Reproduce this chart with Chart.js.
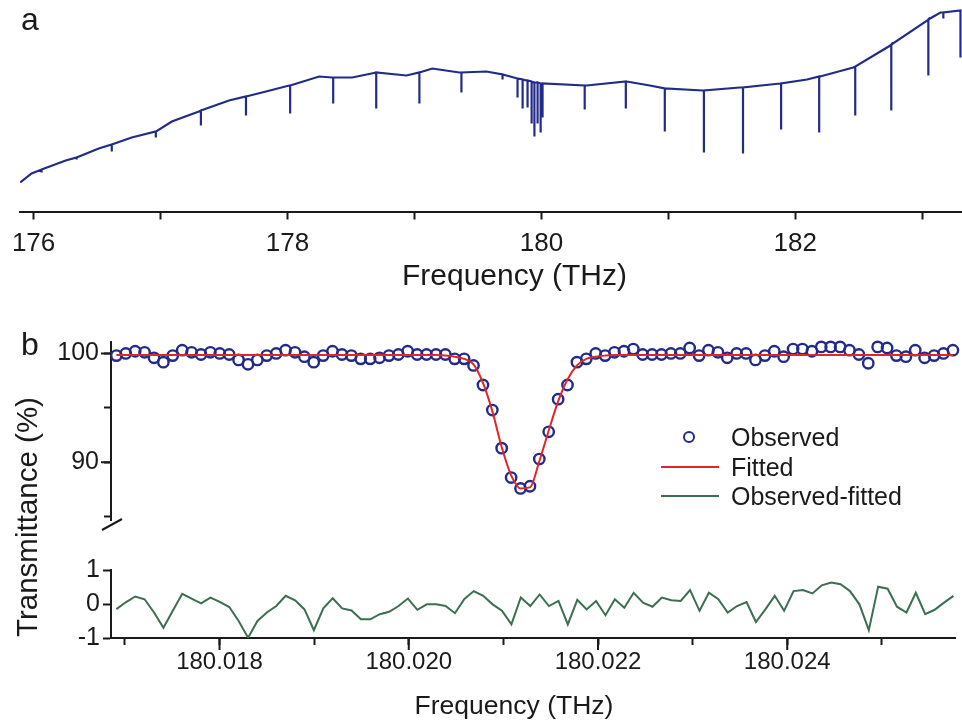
<!DOCTYPE html>
<html>
<head>
<meta charset="utf-8">
<title>Absorption spectrum</title>
<script src="https://cdn.jsdelivr.net/npm/chart.js@4.4.1/dist/chart.umd.min.js"></script>
<style>
  body { margin: 0; background: #fff; }
  #wrap { position: relative; width: 962px; height: 724px; overflow: hidden;
          font-family: "Liberation Sans", Arial, sans-serif; color: #1a1a1a; }
  #wrap canvas { position: absolute; left: 0; }
  .txt { position: absolute; white-space: nowrap; line-height: 1; }
  .legend-row { position: absolute; left: 650px; height: 25px; width: 300px; font-size: 25px; line-height: 25px; }
  .legend-row span { position: absolute; left: 81px; top: 0; }
  .mk-point { position: absolute; left: 33px; top: 6.2px; width: 12px; height: 12px;
              box-sizing: border-box; border: 2.5px solid; border-radius: 50%; }
  .mk-line { position: absolute; left: 11px; top: 11.2px; width: 58px; height: 2px; }
</style>
</head>
<body>
<div id="wrap">
  <canvas id="chartA" width="962" height="300" style="top:0px"></canvas>
  <canvas id="chartB" width="962" height="240" style="top:300px"></canvas>
  <canvas id="chartR" width="962" height="184" style="top:540px"></canvas>
  <div class="txt" style="left:21px;top:3px;font-size:32px">a</div>
  <div class="txt" style="left:21px;top:328px;font-size:32px">b</div>
  <div class="txt" style="left:514.5px;top:260px;font-size:30px;transform:translateX(-50%)">Frequency (THz)</div>
  <div class="txt" style="left:514px;top:691.5px;font-size:26.5px;transform:translateX(-50%)">Frequency (THz)</div>
  <div class="txt" style="left:26.5px;top:516.5px;font-size:29.5px;transform:translate(-50%,-50%) rotate(-90deg)">Transmittance (%)</div>
  <div id="legendB"></div>
</div>

<script>
// ========== PANEL A DATA: SURVEY SPECTRUM (arb. units) ==========
const surveyFreq = [175.895, 175.984, 176.253, 176.513, 176.773, 176.963, 177.089, 177.302, 177.539, 177.831,
  178.013, 178.249, 178.352, 178.510, 178.699, 178.936, 179.141, 179.354, 179.567, 179.725,
  179.883, 180.009, 180.357, 180.672, 180.854, 180.972, 181.272, 181.564, 181.880, 182.093,
  182.196, 182.456, 182.748, 183.040, 183.143, 183.301];
const surveyLevel = [29, 38, 51, 63, 74, 80, 90, 100, 111, 120,
  126, 135, 134, 134, 139, 136, 143, 139, 140, 136,
  131, 128, 126, 130, 126, 123, 121, 124, 128, 132,
  135, 144, 166, 191, 199, 201];

// absorption lines: position, level just outside the line, level at the line centre
const lineFreq = [176.063, 176.339, 176.616, 176.963, 177.318, 177.673, 178.021, 178.360, 178.699, 179.039,
  179.370, 179.694, 179.812, 179.852, 179.891, 179.923, 179.945, 179.970, 179.994, 180.009,
  180.341, 180.665, 180.972, 181.280, 181.588, 181.888, 182.188, 182.472, 182.756, 183.048,
  183.166, 183.301];
const lineBase = [42, 54, 67, 80, 101, 115, 126, 134, 139, 139,
  139, 137, 133, 132, 131, 130, 129, 129, 128, 128,
  126, 130, 123, 121, 124, 128, 135, 145, 167, 192,
  199, 201];
const lineTip = [39, 52, 60, 74, 86, 96, 98, 108, 103, 108,
  119, 132, 114, 103, 104, 88, 75, 88, 79, 94,
  102, 103, 80, 59, 58, 82, 79, 96, 101, 136,
  193, 154];

const surveyTickLabels = [176, 178, 180, 182];

// ========== PANEL B DATA: SINGLE LINE AND FIT ==========
const fitFreq = [180.016910, 180.017009, 180.017109, 180.017208, 180.017308, 180.017407, 180.017506, 180.017606, 180.017705, 180.017805,
  180.017904, 180.018003, 180.018103, 180.018202, 180.018302, 180.018401, 180.018500, 180.018600, 180.018699, 180.018799,
  180.018898, 180.018997, 180.019097, 180.019196, 180.019296, 180.019395, 180.019494, 180.019594, 180.019693, 180.019793,
  180.019892, 180.019991, 180.020091, 180.020190, 180.020290, 180.020389, 180.020488, 180.020588, 180.020687, 180.020787,
  180.020886, 180.020985, 180.021085, 180.021184, 180.021284, 180.021383, 180.021482, 180.021582, 180.021681, 180.021781,
  180.021880, 180.021979, 180.022079, 180.022178, 180.022278, 180.022377, 180.022476, 180.022576, 180.022675, 180.022775,
  180.022874, 180.022973, 180.023073, 180.023172, 180.023272, 180.023371, 180.023470, 180.023570, 180.023669, 180.023769,
  180.023868, 180.023967, 180.024067, 180.024166, 180.024266, 180.024365, 180.024464, 180.024564, 180.024663, 180.024763,
  180.024862, 180.024961, 180.025061, 180.025160, 180.025260, 180.025359, 180.025458, 180.025558, 180.025657, 180.025757];

const observed = [99.8, 100.0, 100.2, 100.1, 99.6, 99.2, 99.8, 100.3, 100.1, 99.9,
  100.1, 100.0, 99.9, 99.4, 99.0, 99.4, 99.8, 100.0, 100.3, 100.1,
  99.7, 99.2, 99.8, 100.2, 99.9, 99.8, 99.5, 99.5, 99.6, 99.8,
  99.9, 100.2, 99.9, 99.9, 99.9, 99.9, 99.5, 99.5, 98.9, 97.1,
  94.8, 91.3, 88.6, 87.6, 87.8, 90.3, 92.8, 95.8, 97.1, 99.2,
  99.5, 100.0, 99.8, 100.1, 100.2, 100.4, 99.9, 99.9, 99.9, 100.0,
  100.0, 100.5, 99.8, 100.3, 100.1, 99.6, 100.0, 100.0, 99.4, 99.8,
  100.2, 99.7, 100.4, 100.4, 100.2, 100.6, 100.6, 100.6, 100.3, 99.9,
  99.1, 100.6, 100.5, 99.8, 99.7, 100.3, 99.6, 99.8, 100.0, 100.3];

const fitted = [99.85, 99.85, 99.85, 99.85, 99.85, 99.85, 99.85, 99.85, 99.85, 99.85,
  99.85, 99.85, 99.85, 99.85, 99.85, 99.85, 99.85, 99.85, 99.85, 99.85,
  99.85, 99.85, 99.85, 99.85, 99.85, 99.85, 99.85, 99.85, 99.85, 99.85,
  99.85, 99.85, 99.85, 99.85, 99.85, 99.8, 99.7, 99.5, 99.0, 97.3,
  94.7, 91.4, 88.8, 87.6, 87.7, 90.1, 92.9, 95.6, 97.6, 98.9,
  99.5, 99.7, 99.8, 99.85, 99.85, 99.85, 99.85, 99.85, 99.85, 99.85,
  99.85, 99.85, 99.85, 99.85, 99.85, 99.85, 99.85, 99.85, 99.85, 99.85,
  99.85, 99.85, 99.85, 99.85, 99.85, 99.85, 99.85, 99.85, 99.85, 99.85,
  99.85, 99.85, 99.85, 99.85, 99.85, 99.85, 99.85, 99.85, 99.85, 99.85];

const residual = [-0.15, 0.05, 0.22, 0.14, -0.25, -0.70, -0.20, 0.30, 0.16, 0.02,
  0.19, 0.06, -0.09, -0.50, -0.99, -0.50, -0.25, -0.06, 0.24, 0.11,
  -0.16, -0.77, -0.13, 0.17, -0.13, -0.19, -0.45, -0.45, -0.30, -0.23,
  -0.06, 0.16, -0.17, -0.01, -0.01, -0.06, -0.27, 0.15, 0.38, 0.24,
  -0.01, -0.20, -0.60, 0.19, -0.06, 0.28, -0.06, 0.09, -0.60, 0.12,
  -0.16, 0.09, -0.33, 0.14, -0.11, 0.33, 0.04, -0.08, 0.19, 0.11,
  0.09, 0.41, -0.20, 0.33, 0.14, -0.25, -0.06, 0.06, -0.53, -0.16,
  0.24, -0.20, 0.38, 0.41, 0.31, 0.55, 0.63, 0.58, 0.38, -0.01,
  -0.77, 0.51, 0.45, -0.08, -0.25, 0.33, -0.30, -0.17, 0.04, 0.24];

const transTickLabels = [90, 100];
const residTickLabels = [-1, 0, 1];
const fitTickLabels = [180.018, 180.020, 180.022, 180.024];

// ========== STYLE ==========
const NAVY = "#222b8a";
const RED = "#e1262a";
const GREEN = "#3b6f4f";
const INK = "#1a1a1a";
const FIT_MIN = 180.016853;
const FIT_MAX = 180.025773;

Chart.defaults.font.family = "'Liberation Sans', Arial, sans-serif";
Chart.defaults.color = INK;

function baseOptions(padding) {
  return {
    responsive: false,
    animation: false,
    devicePixelRatio: 1,
    layout: { padding: padding },
    plugins: { legend: { display: false }, tooltip: { enabled: false } },
  };
}

function axisStyle(tickLength) {
  return {
    border: { display: true, color: INK, width: 2 },
    grid: { drawOnChartArea: false, drawTicks: true, tickLength: tickLength, tickColor: INK, tickWidth: 2 },
  };
}

function hasValue(list, v) {
  return list.some((t) => Math.abs(t - v) < 1e-7);
}

// labelled ticks are drawn a bit longer than the unlabelled ones
const majorTicks = {
  id: "majorTicks",
  afterDraw(chart, args, o) {
    if (!o || !o.values) return;
    const scale = chart.scales[o.axis];
    const ctx = chart.ctx;
    ctx.save();
    ctx.strokeStyle = INK;
    ctx.lineWidth = 2;
    ctx.beginPath();
    o.values.forEach((v) => {
      const p = scale.getPixelForValue(v);
      if (o.axis === "x") {
        ctx.moveTo(p, scale.top);
        ctx.lineTo(p, scale.top + o.length);
      } else {
        ctx.moveTo(scale.right, p);
        ctx.lineTo(scale.right - o.length, p);
      }
    });
    ctx.stroke();
    ctx.restore();
  },
};

// ========== PANEL A ==========
function buildSurveyPoints() {
  const pts = surveyFreq.map((f, i) => ({ x: f, y: surveyLevel[i] }));
  lineFreq.forEach((f, i) => {
    pts.push({ x: f, y: lineBase[i] }, { x: f, y: lineTip[i] }, { x: f, y: lineBase[i] });
  });
  return pts.sort((a, b) => a.x - b.x);
}

function drawSurvey() {
  const opts = baseOptions({ left: 20, right: 0, top: 5, bottom: 0 });
  opts.scales = {
    x: Object.assign(axisStyle(8), {
      type: "linear",
      min: 175.893,
      max: 183.313,
      afterFit: (s) => { s.height = 88.5; },
      ticks: {
        stepSize: 1, includeBounds: false, autoSkip: false, maxRotation: 0, padding: 9,
        font: { size: 26 },
        callback: (v) => (hasValue(surveyTickLabels, v) ? String(v) : ""),
      },
    }),
    y: { display: false, min: 0, max: 206.5 },
  };
  new Chart(document.getElementById("chartA"), {
    type: "line",
    data: {
      datasets: [{ data: buildSurveyPoints(), borderColor: NAVY, borderWidth: 2.2, pointRadius: 0, tension: 0 }],
    },
    options: opts,
  });
}

// ========== PANEL B (transmittance + residual) ==========
const axisBreak = {
  id: "axisBreak",
  afterDraw(chart) {
    const { ctx, chartArea } = chart;
    ctx.save();
    ctx.strokeStyle = INK;
    ctx.lineWidth = 2;
    ctx.beginPath();
    ctx.moveTo(chartArea.left - 9, chartArea.bottom + 10);
    ctx.lineTo(chartArea.left + 11, chartArea.bottom - 1);
    ctx.stroke();
    ctx.restore();
  },
};

function drawTransmittance() {
  const opts = baseOptions({ left: 0, right: 7, top: 42, bottom: 12 });
  opts.plugins.majorTicks = { axis: "y", values: transTickLabels, length: 10 };
  opts.scales = {
    x: { type: "linear", display: false, min: FIT_MIN, max: FIT_MAX },
    y: Object.assign(axisStyle(7), {
      min: 84.7,
      max: 101.05,
      afterFit: (s) => { s.width = 111; },
      ticks: {
        stepSize: 5, includeBounds: false, padding: 5, font: { size: 25 },
        callback: (v) => (hasValue(transTickLabels, v) ? String(v) : ""),
      },
    }),
  };
  return new Chart(document.getElementById("chartB"), {
    type: "line",
    data: {
      datasets: [
        {
          label: "Fitted",
          data: fitFreq.map((f, i) => ({ x: f, y: fitted[i] })),
          borderColor: RED, borderWidth: 2, pointRadius: 0,
          cubicInterpolationMode: "monotone", order: 0,
        },
        {
          label: "Observed",
          data: fitFreq.map((f, i) => ({ x: f, y: observed[i] })),
          showLine: false, pointStyle: "circle", pointRadius: 5.2, pointBorderWidth: 2.4,
          pointBorderColor: NAVY, pointBackgroundColor: "rgba(0,0,0,0)", borderColor: NAVY,
          order: 1, clip: false,
        },
      ],
    },
    options: opts,
    plugins: [axisBreak, majorTicks],
  });
}

function drawResidual() {
  const opts = baseOptions({ left: 0, right: 7, top: 30, bottom: 0 });
  opts.plugins.majorTicks = { axis: "x", values: fitTickLabels, length: 12 };
  opts.scales = {
    x: Object.assign(axisStyle(7), {
      type: "linear",
      min: FIT_MIN,
      max: FIT_MAX,
      afterFit: (s) => { s.height = 86; },
      ticks: {
        stepSize: 0.001, includeBounds: false, autoSkip: false, maxRotation: 0, padding: 5,
        font: { size: 24, lineHeight: 1 },
        callback: (v) => (hasValue(fitTickLabels, v) ? v.toFixed(3) : ""),
      },
    }),
    y: Object.assign(axisStyle(8), {
      min: -1,
      max: 1,
      afterFit: (s) => { s.width = 111; },
      ticks: {
        stepSize: 1, padding: 3, font: { size: 25 },
        callback: (v) => (hasValue(residTickLabels, v) ? String(v) : ""),
      },
    }),
  };
  return new Chart(document.getElementById("chartR"), {
    type: "line",
    data: {
      datasets: [{
        label: "Observed-fitted",
        data: fitFreq.map((f, i) => ({ x: f, y: residual[i] })),
        borderColor: GREEN, borderWidth: 2, pointRadius: 0, tension: 0,
      }],
    },
    options: opts,
    plugins: [majorTicks],
  });
}

// ========== LEGEND FOR PANEL B ==========
function buildLegend(datasets) {
  const box = document.getElementById("legendB");
  datasets.forEach((ds, i) => {
    const row = document.createElement("div");
    row.className = "legend-row";
    row.style.top = (425 + i * 29.5) + "px";
    const mk = document.createElement("div");
    if (ds.showLine === false) {
      mk.className = "mk-point";
      mk.style.borderColor = ds.pointBorderColor;
    } else {
      mk.className = "mk-line";
      mk.style.background = ds.borderColor;
    }
    const label = document.createElement("span");
    label.textContent = ds.label;
    row.appendChild(mk);
    row.appendChild(label);
    box.appendChild(row);
  });
}

// ========== STARTUP ==========
drawSurvey();
const trans = drawTransmittance();
const resid = drawResidual();
const fitSets = trans.data.datasets;
buildLegend([fitSets[1], fitSets[0], resid.data.datasets[0]]);
</script>
</body>
</html>
